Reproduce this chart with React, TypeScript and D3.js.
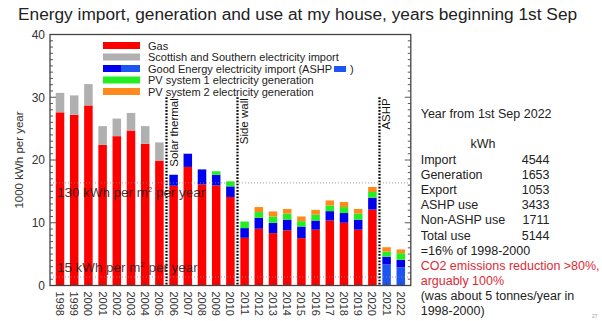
import React, { useEffect, useRef } from "react";
import * as d3 from "d3";

const years = ["1998","1999","2000","2001","2002","2003","2004","2005","2006","2007","2008","2009","2010","2011","2012","2013","2014","2015","2016","2017","2018","2019","2020","2021","2022"];
const gas = [27.6,27.2,28.7,22.4,23.8,24.7,22.6,19.9,15.9,18.9,16.1,15.95,14.1,7.6,9.05,8.35,8.8,7.55,8.9,10.35,10.0,8.9,12.1,0,0];
const sseImport = [3.1,3.1,3.4,3.0,2.8,2.8,2.8,2.9,0,0,0,0,0,0,0,0,0,0,0,0,0,0,0,0,0];
const ashpImport = [0,0,0,0,0,0,0,0,0,0,0,0,0,0,0,0,0,0,0,0,0,0,0,3.35,2.9];
const goodEnergy = [0,0,0,0,0,0,0,0,1.75,2.1,2.4,1.7,1.7,1.55,1.75,1.65,1.7,1.85,1.45,1.5,1.55,1.6,1.9,1.25,1.2];
const pv1 = [0,0,0,0,0,0,0,0,0,0,0,0.55,0.8,1.05,0.9,1.0,0.95,0.85,0.95,0.9,0.95,0.95,0.9,0.8,1.05];
const pv2 = [0,0,0,0,0,0,0,0,0,0,0,0,0,0,0.8,0.8,0.75,0.75,0.75,0.8,0.8,0.75,0.8,0.7,0.6];

const yTicks = [0, 10, 20, 30, 40];
const refLines = [
  { value: 16.35, label: "130 kWh per m", after: " per year" },
  { value: 1.35, label: "15 kWh per m", after: " per year" },
];
const events = [
  { after: "2005", label: "Solar thermal" },
  { after: "2010", label: "Side wall" },
  { after: "2020", label: "ASHP" },
];
const legendLabels = [
  "Gas",
  "Scottish and Southern electricity import",
  "Good Energy electricity import (ASHP",
  "PV system 1 electricity generation",
  "PV system 2 electricity generation",
];
const summaryTitle = "Year from 1st Sep 2022";
const summaryLabels = ["Import", "Generation", "Export", "ASHP use", "Non-ASHP use", "Total use"];
const summaryValues = ["4544", "1653", "1053", "3433", "1711", "5144"];
const summaryNotes = [
  { text: "=16% of 1998-2000", red: false },
  { text: "CO2 emissions reduction >80%,", red: true },
  { text: "arguably 100%", red: true },
  { text: "(was about 5 tonnes/year in", red: false },
  { text: "1998-2000)", red: false },
];

const COLORS = {
  ashp: "#1e55f2",
  gas: "#ff0000",
  sse: "#b0b0b0",
  good: "#0000ee",
  pv1: "#22ee22",
  pv2: "#ff8a1c",
};
const FONT = "'Liberation Sans', Arial, Helvetica, sans-serif";

export default function App() {
  const ref = useRef<SVGSVGElement>(null);

  useEffect(() => {
    const svg = d3.select(ref.current);
    svg.selectAll("*").remove();
    svg.attr("font-family", FONT);

    const left = 50, right = 410.8, top = 34.5, bottom = 285.5;
    const x = d3.scaleBand<string>().domain(years).range([left, right]).paddingInner(0.4).paddingOuter(0.405);
    const y = d3.scaleLinear().domain([0, 40]).range([bottom, top]);

    // title
    svg.append("text").attr("x", 18).attr("y", 19.5).attr("font-size", 17.3).attr("fill", "#222")
      .text("Energy import, generation and use at my house, years beginning 1st Sep");

    // data table
    const rows = years.map((yr, i) => ({
      year: yr, ashp: ashpImport[i], gas: gas[i], sse: sseImport[i], good: goodEnergy[i], pv1: pv1[i], pv2: pv2[i],
    }));
    const keys = ["ashp", "gas", "sse", "good", "pv1", "pv2"] as const;
    const stack = d3.stack<any>().keys(keys as any)(rows);

    const g = svg.append("g");
    stack.forEach((layer: any) => {
      g.append("g").attr("fill", (COLORS as any)[layer.key])
        .selectAll("rect").data(layer).join("rect")
        .attr("x", (d: any) => x(d.data.year)!)
        .attr("width", x.bandwidth())
        .attr("y", (d: any) => y(d[1]))
        .attr("height", (d: any) => Math.max(0, y(d[0]) - y(d[1])));
    });

    // reference lines
    refLines.forEach((r) => {
      g.append("line").attr("x1", left).attr("x2", right).attr("y1", y(r.value)).attr("y2", y(r.value))
        .attr("stroke", "#888").attr("stroke-width", 0.8).attr("stroke-dasharray", "1,2");
    });
    const rl1 = g.append("text").attr("x", 57).attr("y", y(refLines[0].value) + 14.5).attr("font-size", 13.4).attr("fill", "#1a1a1a").attr("fill-opacity", 0.85);
    rl1.append("tspan").text(refLines[0].label);
    rl1.append("tspan").attr("font-size", 8).attr("dy", -5).text("2");
    rl1.append("tspan").attr("dy", 5).text(refLines[0].after);
    const rl2 = g.append("text").attr("x", 57).attr("y", y(refLines[1].value) - 5).attr("font-size", 13.4).attr("fill", "#1a1a1a").attr("fill-opacity", 0.85);
    rl2.append("tspan").text(refLines[1].label);
    rl2.append("tspan").attr("font-size", 8).attr("dy", -5).text("2");
    rl2.append("tspan").attr("dy", 5).text(refLines[1].after);

    // event lines
    events.forEach((ev) => {
      const i = years.indexOf(ev.after);
      const xc = (x(years[i])! + x(years[i + 1])! + x.bandwidth()) / 2;
      g.append("line").attr("x1", xc).attr("x2", xc).attr("y1", y(30)).attr("y2", bottom)
        .attr("stroke", "#000").attr("stroke-width", 2.2).attr("stroke-dasharray", "1.7,1.5");
      g.append("text").attr("transform", `translate(${xc + 11},${y(30) + 1}) rotate(-90)`)
        .attr("text-anchor", "end").attr("font-size", 11.5).attr("fill", "#111").text(ev.label);
    });

    // frame
    svg.append("rect").attr("x", left).attr("y", top).attr("width", right - left).attr("height", bottom - top)
      .attr("fill", "none").attr("stroke", "#444").attr("stroke-width", 1.3);

    // y ticks
    const minor = d3.range(0, 41, 1);
    minor.forEach((v) => {
      const len = v % 10 === 0 ? 6 : 3;
      svg.append("line").attr("x1", left).attr("x2", left + len).attr("y1", y(v)).attr("y2", y(v)).attr("stroke", "#444").attr("stroke-width", 0.9);
      svg.append("line").attr("x1", right).attr("x2", right - len).attr("y1", y(v)).attr("y2", y(v)).attr("stroke", "#444").attr("stroke-width", 0.9);
    });
    yTicks.forEach((v) => {
      svg.append("text").attr("x", left - 5).attr("y", y(v)).attr("dy", "0.36em").attr("text-anchor", "end")
        .attr("font-size", 12).attr("fill", "#333").text(String(v));
    });
    svg.append("text").attr("transform", `translate(23,${(top + bottom) / 2}) rotate(-90)`).attr("text-anchor", "middle")
      .attr("font-size", 11.5).attr("fill", "#333").text("1000 kWh per year");

    // x ticks and labels
    years.forEach((yr) => {
      const xc = x(yr)! + x.bandwidth() / 2;
      svg.append("line").attr("x1", xc).attr("x2", xc).attr("y1", bottom).attr("y2", bottom - 3).attr("stroke", "#444").attr("stroke-width", 0.9);
      svg.append("text").attr("transform", `translate(${xc},${bottom + 6}) rotate(90)`)
        .attr("dominant-baseline", "central").attr("font-size", 11).attr("fill", "#333").text(yr);
    });

    // legend
    const lg = svg.append("g");
    const lgKeys = ["gas", "sse", "good", "pv1", "pv2"];
    legendLabels.forEach((lab, i) => {
      const cy = 45.5 + i * 11.5;
      if (lgKeys[i] === "good") {
        lg.append("rect").attr("x", 103).attr("y", cy - 3.5).attr("width", 18).attr("height", 7).attr("fill", COLORS.good);
        lg.append("rect").attr("x", 121).attr("y", cy - 3.5).attr("width", 19).attr("height", 7).attr("fill", COLORS.ashp);
      } else {
        lg.append("rect").attr("x", 103).attr("y", cy - 3.5).attr("width", 37).attr("height", 7).attr("fill", (COLORS as any)[lgKeys[i]]);
      }
      const t = lg.append("text").attr("x", 148).attr("y", cy + 4).attr("font-size", 11).attr("fill", "#222").text(lab);
      if (lgKeys[i] === "good") {
        const w = (t.node() as SVGTextElement).getComputedTextLength();
        lg.append("rect").attr("x", 148 + w + 2).attr("y", cy - 2.5).attr("width", 12).attr("height", 6).attr("fill", COLORS.ashp);
        lg.append("text").attr("x", 148 + w + 18).attr("y", cy + 4).attr("font-size", 11).attr("fill", "#222").text(")");
      }
    });

    // summary panel
    const sp = svg.append("g").attr("font-size", 12.5).attr("fill", "#222");
    sp.append("text").attr("x", 420.7).attr("y", 118).text(summaryTitle);
    sp.append("text").attr("x", 483).attr("y", 148).attr("text-anchor", "middle").text("kWh");
    summaryLabels.forEach((lab, i) => {
      const by = 164 + 15.1 * i;
      sp.append("text").attr("x", 420.7).attr("y", by).text(lab);
      sp.append("text").attr("x", 549.5).attr("y", by).attr("text-anchor", "end").text(summaryValues[i]);
    });
    summaryNotes.forEach((n, i) => {
      const by = 164 + 15.1 * (i + 6);
      sp.append("text").attr("x", 420.7).attr("y", by).attr("fill", n.red ? "#dd2a35" : "#222").text(n.text);
    });

    svg.append("text").attr("x", 592).attr("y", 318).attr("font-size", 5).attr("fill", "#999").text("27");
  }, []);

  return <svg ref={ref} width={602} height={321} style={{ position: "absolute", left: 0, top: 0, background: "#fff" }} />;
}
